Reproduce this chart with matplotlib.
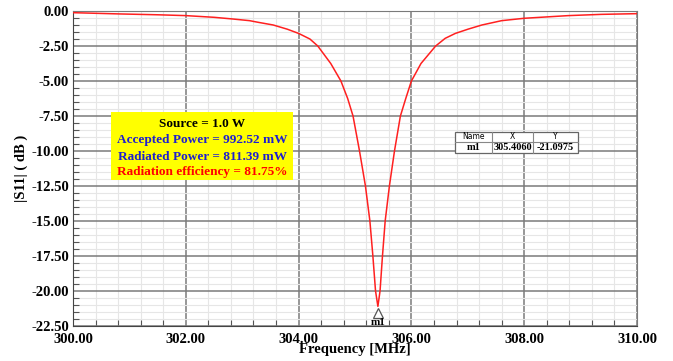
import matplotlib
matplotlib.use("Agg")
import matplotlib.pyplot as plt
from matplotlib.ticker import MultipleLocator, FormatStrFormatter

# ---- data ----
freq_mhz = [300.00, 300.83, 301.50, 302.00, 302.50, 302.83, 303.13, 303.30, 303.55,
            303.80, 304.00, 304.20, 304.34, 304.57, 304.75, 304.87, 304.965, 305.08,
            305.185, 305.264, 305.317, 305.364, 305.406, 305.444, 305.487, 305.535,
            305.61, 305.70, 305.805, 305.90, 306.00, 306.17, 306.43, 306.60, 306.78,
            307.01, 307.25, 307.60, 308.00, 308.78, 309.37, 310.00]
s11_db = [-0.12, -0.21, -0.27, -0.33, -0.45, -0.57, -0.69, -0.82, -1.00,
          -1.30, -1.60, -2.00, -2.50, -3.75, -5.00, -6.25, -7.50, -10.00,
          -12.50, -15.00, -17.50, -20.00, -21.0975, -20.00, -17.50, -15.00,
          -12.50, -10.00, -7.50, -6.25, -5.00, -3.75, -2.50, -1.95, -1.60,
          -1.29, -1.00, -0.69, -0.52, -0.33, -0.24, -0.19]

marker_name = "m1"
marker_x = 305.4060
marker_y = -21.0975

info_lines = ["Source = 1.0 W", "Accepted Power = 992.52 mW",
              "Radiated Power = 811.39 mW", "Radiation efficiency = 81.75%"]
info_colors = ["black", "#1f1fd0", "#1f1fd0", "red"]

x_ticks = [300.0, 302.0, 304.0, 306.0, 308.0, 310.0]
y_ticks = [0.0, -2.5, -5.0, -7.5, -10.0, -12.5, -15.0, -17.5, -20.0, -22.5]

serif = ["Liberation Serif", "DejaVu Serif"]

fig = plt.figure(figsize=(6.73, 3.61), dpi=100)
ax = fig.add_axes([73/673, 1-326/361, (637-73)/673, (326-11)/361])

ax.set_xlim(300, 310)
ax.set_ylim(-22.5, 0)
ax.set_xticks(x_ticks)
ax.set_yticks(y_ticks)
ax.xaxis.set_minor_locator(MultipleLocator(0.4))
ax.yaxis.set_minor_locator(MultipleLocator(0.5))
ax.xaxis.set_major_formatter(FormatStrFormatter("%.2f"))
ax.yaxis.set_major_formatter(FormatStrFormatter("%.2f"))

ax.grid(True, which="major", color="#7a7a7a", linewidth=1.1, zorder=0)
ax.grid(True, which="minor", color="#e6e6e6", linewidth=0.8, zorder=0)
ax.set_axisbelow(True)

ax.tick_params(which="both", direction="in", color="#555555")
ax.tick_params(which="major", length=0)
ax.tick_params(which="minor", length=4, width=0.8)
ax.tick_params(axis="x", which="major", pad=5)
ax.tick_params(axis="y", which="major", pad=3)
for lab in ax.get_xticklabels() + ax.get_yticklabels():
    lab.set_family(serif)
    lab.set_fontweight("bold")
    lab.set_fontsize(10.5)

for side in ["top", "right"]:
    ax.spines[side].set_color("#7a7a7a")
for side in ["left", "bottom"]:
    ax.spines[side].set_color("#444444")

ax.plot(freq_mhz, s11_db, color="#ff2020", linewidth=1.1, zorder=3)

# marker
ax.plot([marker_x], [marker_y - 0.45], marker="^", markersize=7,
        markerfacecolor="white", markeredgecolor="#555555", markeredgewidth=0.9,
        linestyle="none", zorder=4)
ax.text(marker_x, marker_y - 0.85, marker_name, ha="center", va="top",
        family=serif, fontweight="bold", fontsize=8, zorder=4)

ax.set_ylabel("|S11| ( dB )", family=serif, fontweight="bold", fontsize=10.5, labelpad=2)
fig.text(355/673, 1-350/361, "Frequency [MHz]", ha="center", va="center",
         family=serif, fontweight="bold", fontsize=10.5)

# info box
box_l, box_r, box_t, box_b = 111, 293, 112, 180
fig.patches.append(plt.Rectangle((box_l/673, 1-box_b/361), (box_r-box_l)/673,
                                 (box_b-box_t)/361, transform=fig.transFigure,
                                 facecolor="#ffff00", edgecolor="none", zorder=5))
ys = [124, 140, 157, 172]
for t, c, yy in zip(info_lines, info_colors, ys):
    fig.text(202/673, 1-yy/361, t, ha="center", va="center", color=c,
             family=serif, fontweight="bold", fontsize=9.5, zorder=6)

# marker table
cols = [455, 492, 533, 578]
rows = [132, 142, 153]
heads = ["Name", "X", "Y"]
vals = [marker_name, "%.4f" % marker_x, "%.4f" % marker_y]
fig.patches.append(plt.Rectangle((cols[0]/673, 1-rows[2]/361), (cols[3]-cols[0])/673,
                                 (rows[2]-rows[0])/361, transform=fig.transFigure,
                                 facecolor="white", edgecolor="#666666", linewidth=0.9, zorder=5))
for cx in cols[1:3]:
    fig.add_artist(plt.Line2D([cx/673, cx/673], [1-rows[0]/361, 1-rows[2]/361],
                              color="#888888", linewidth=0.8, zorder=6))
fig.add_artist(plt.Line2D([cols[0]/673, cols[3]/673], [1-rows[1]/361, 1-rows[1]/361],
                          color="#888888", linewidth=0.8, zorder=6))
for i in range(3):
    xc = (cols[i] + cols[i+1]) / 2 / 673
    fig.text(xc, 1-(rows[0]+rows[1])/2/361, heads[i], ha="center", va="center",
             family="DejaVu Sans", fontsize=5.5, zorder=7)
    fig.text(xc, 1-(rows[1]+rows[2])/2/361, vals[i], ha="center", va="center",
             family=serif, fontweight="bold", fontsize=7.5, zorder=7)

fig.savefig("out.png", dpi=100, facecolor="white")
